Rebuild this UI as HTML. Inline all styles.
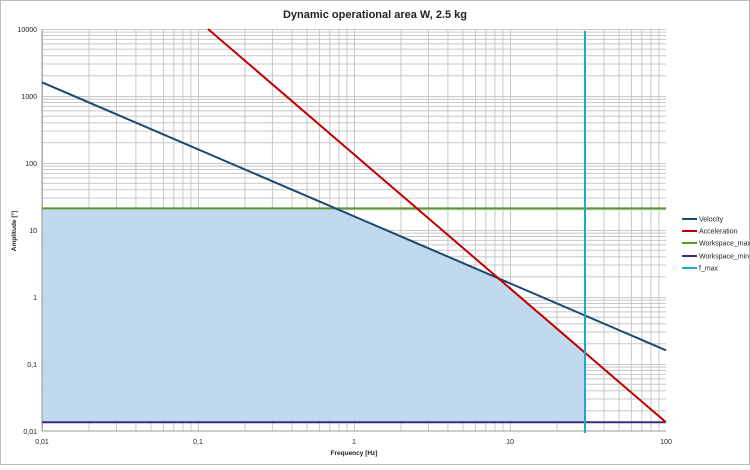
<!DOCTYPE html>
<html><head><style>
body{margin:0;background:#fff}
text{font-family:"Liberation Sans",sans-serif}
</style></head><body>
<svg width="750" height="465" viewBox="0 0 750 465" xmlns="http://www.w3.org/2000/svg">
<defs>
<pattern id="gx" patternUnits="userSpaceOnUse" x="42" y="0" width="156" height="465">
<g stroke="#c8c8c8" stroke-width="1">
<line x1="0.5" y1="0" x2="0.5" y2="465"/><line x1="47" y1="0" x2="47" y2="465"/><line x1="74.4" y1="0" x2="74.4" y2="465"/><line x1="93.9" y1="0" x2="93.9" y2="465"/><line x1="109" y1="0" x2="109" y2="465"/><line x1="121.4" y1="0" x2="121.4" y2="465"/><line x1="131.8" y1="0" x2="131.8" y2="465"/><line x1="140.9" y1="0" x2="140.9" y2="465"/><line x1="148.9" y1="0" x2="148.9" y2="465"/>
</g></pattern>
<pattern id="gy" patternUnits="userSpaceOnUse" x="0" y="29" width="750" height="67">
<g stroke="#c8c8c8" stroke-width="1">
<line x1="0" y1="0.5" x2="750" y2="0.5"/><line x1="0" y1="46.8" x2="750" y2="46.8"/><line x1="0" y1="35" x2="750" y2="35"/><line x1="0" y1="26.7" x2="750" y2="26.7"/><line x1="0" y1="20.2" x2="750" y2="20.2"/><line x1="0" y1="14.9" x2="750" y2="14.9"/><line x1="0" y1="10.4" x2="750" y2="10.4"/><line x1="0" y1="6.5" x2="750" y2="6.5"/><line x1="0" y1="3.1" x2="750" y2="3.1"/>
</g></pattern>
</defs>
<rect x="0.5" y="0.5" width="749" height="464" fill="#fff" stroke="#bdbdbd"/>
<text x="375" y="18" text-anchor="middle" font-size="11" font-weight="bold" fill="#222">Dynamic operational area W, 2.5 kg</text>
<rect x="42" y="29" width="624" height="402" fill="url(#gx)"/>
<rect x="42" y="29" width="624" height="402" fill="url(#gy)"/>
<polygon points="42,208.4 335.6,208.4 498.5,278.4 584.4,352.2 584.4,422.3 42,422.3" fill="#bdd7ee" opacity="0.95"/>
<line x1="42" y1="29" x2="42" y2="431" stroke="#999"/>
<line x1="42" y1="431" x2="666" y2="431" stroke="#999"/>
<line x1="42" y1="208.4" x2="666" y2="208.4" stroke="#5a9a28" stroke-width="2"/>
<line x1="42" y1="422.3" x2="666" y2="422.3" stroke="#3b2c7e" stroke-width="2"/>
<line x1="42" y1="82.3" x2="666" y2="350.3" stroke="#1b4a72" stroke-width="2"/>
<line x1="208" y1="29" x2="666" y2="422.3" stroke="#c00000" stroke-width="2"/>
<line x1="585" y1="31" x2="585" y2="433" stroke="#20a8c8" stroke-width="2"/>
<g font-size="7" fill="#222" text-anchor="end">
<text x="37" y="32">10000</text><text x="37" y="99">1000</text><text x="37" y="166">100</text><text x="37" y="233">10</text><text x="37" y="300">1</text><text x="37" y="367">0,1</text><text x="37" y="434">0,01</text>
</g>
<g font-size="7" fill="#222" text-anchor="middle">
<text x="42" y="444">0,01</text><text x="198" y="444">0,1</text><text x="354" y="444">1</text><text x="510" y="444">10</text><text x="666" y="444">100</text>
</g>
<text x="354" y="455" text-anchor="middle" font-size="6.5" font-weight="bold" fill="#222">Frequency [Hz]</text>
<text transform="translate(16,231) rotate(-90)" text-anchor="middle" font-size="6.5" font-weight="bold" fill="#222">Amplitude [°]</text>
<g font-size="7" fill="#222">
<line x1="682" y1="219" x2="697" y2="219" stroke="#1b4a72" stroke-width="2"/><text x="699" y="221.5">Velocity</text>
<line x1="682" y1="231" x2="697" y2="231" stroke="#c00000" stroke-width="2"/><text x="699" y="233.5">Acceleration</text>
<line x1="682" y1="243" x2="697" y2="243" stroke="#5a9a28" stroke-width="2"/><text x="699" y="245.5">Workspace_max</text>
<line x1="682" y1="256" x2="697" y2="256" stroke="#3b2c7e" stroke-width="2"/><text x="699" y="258.5">Workspace_min</text>
<line x1="682" y1="268" x2="697" y2="268" stroke="#20a8c8" stroke-width="2"/><text x="699" y="270.5">f_max</text>
</g>
</svg>
</body></html>
